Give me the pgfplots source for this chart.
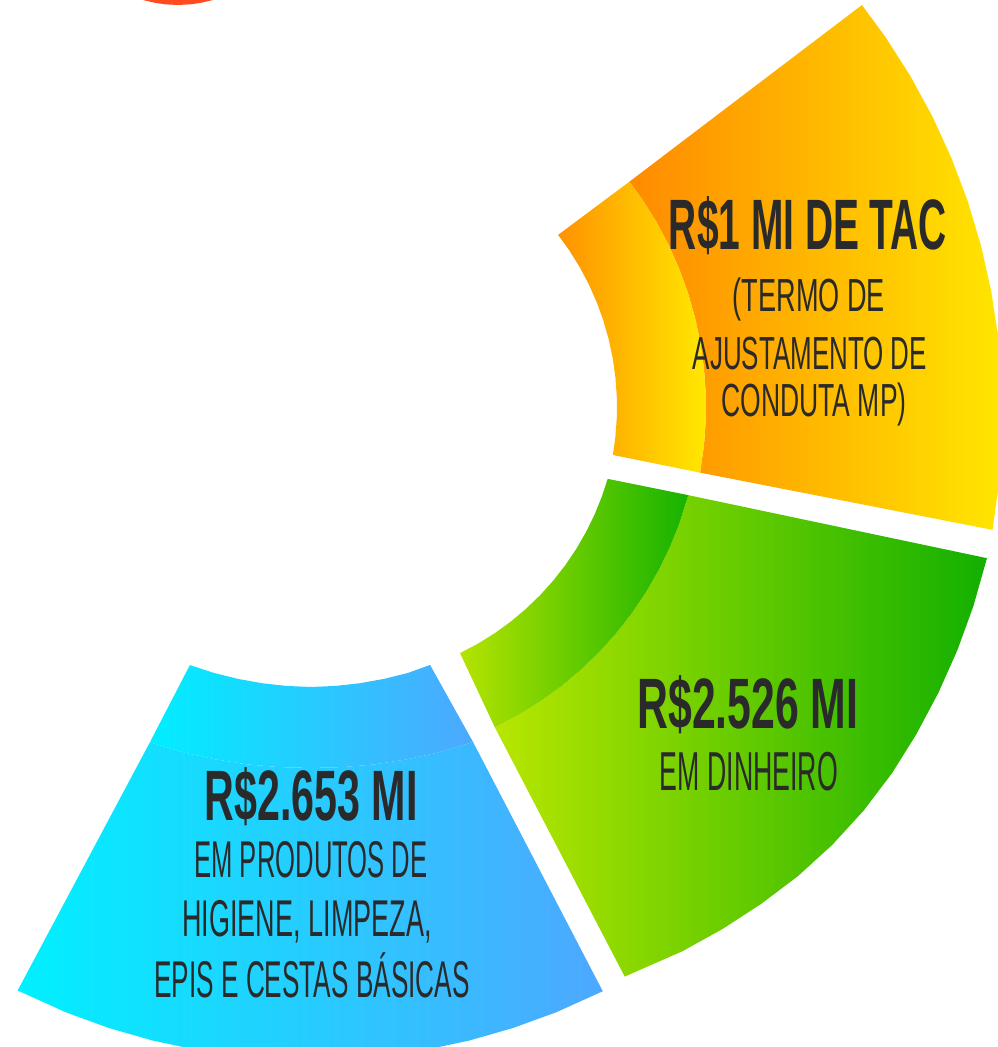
\documentclass[border=0pt]{standalone}
\usepackage{pgfplots}
\pgfplotsset{compat=1.18}
\usepackage{graphicx}
\usepackage{fontspec}
\setmainfont{Liberation Sans}
\definecolor{txt}{HTML}{2A2A2A}
\definecolor{yOutL}{HTML}{FF8A00}
\definecolor{yOutM}{HTML}{FFC000}
\definecolor{yOutR}{HTML}{FFE600}
\definecolor{yInL}{HTML}{FF9200}
\definecolor{yInM}{HTML}{FFC600}
\definecolor{yInR}{HTML}{FFE800}
\definecolor{gOutL}{HTML}{B8E600}
\definecolor{gOutR}{HTML}{12B000}
\definecolor{gInL}{HTML}{B5E300}
\definecolor{gInR}{HTML}{16B300}
\definecolor{bOutL}{HTML}{00F0FF}
\definecolor{bOutR}{HTML}{4DA8FF}
\definecolor{bInL}{HTML}{00EEFF}
\definecolor{bInR}{HTML}{4DA8FF}
\definecolor{redc}{HTML}{FF4B1E}
\newcommand{\lbl}[3]{\resizebox{#1}{\height}{\fontsize{#2}{#2}\selectfont #3}}
\begin{document}
\begin{tikzpicture}
\begin{axis}[x=0.01cm, y=0.01cm, xmin=-336, xmax=662, ymin=-640, ymax=407,
  hide axis, clip=true]

% partial red circle at top
\addplot[draw=none, fill=redc, mark=none] coordinates {
(-195,420) (-193,407) (-181,404.2) (-171,402.7) (-158,402) (-145,402.7) (-135,404.2) (-123,407) (-121,420)} -- cycle;

% ---- yellow segment: R$1 mi
\addplot[draw=none, mark=none, data cs=polar, left color=yOutL, middle color=yOutM, right color=yOutR] coordinates {
(-10.22,370) (-6,370) (-2,370) (2,370) (6,370) (10,370) (14,370) (18,370) (22,370) (26,370) (30,370) (34,370) (37.52,370)
(37.39,662) (34,662.4) (30,662.9) (26,663.4) (22,663.9) (18,664.4) (14,664.9) (10,665.4) (6,665.9) (2,666.4) (-2,666.9) (-6,667.4) (-10.6,668)
} -- cycle;
\addplot[draw=none, mark=none, data cs=polar, left color=yInL, middle color=yInM, right color=yInR] coordinates {
(37.77,281) (34,281) (30,281) (26,281) (22,281) (18,281) (14,281) (10,281) (6,281) (2,281) (-2,281) (-6,281) (-9.83,281)
(-10.22,370) (-6,370) (-2,370) (2,370) (6,370) (10,370) (14,370) (18,370) (22,370) (26,370) (30,370) (34,370) (37.52,370)
} -- cycle;

% ---- green segment: R$2.526 mi
\addplot[draw=none, mark=none, data cs=polar, xshift=0.02cm, yshift=0.07cm, left color=gOutL, right color=gOutR] coordinates {
(-15.2,363) (-20,363) (-24,363) (-28,363) (-32,363) (-36,363) (-40,363) (-44,363) (-48,363) (-52,363) (-56,363) (-60,363) (-64.4,363)
(-63.56,644) (-58,650) (-54,654) (-50,658) (-46,662) (-42,665) (-38,667) (-34,668) (-30,668) (-26,668) (-22,668) (-18,668) (-13.7,668)
} -- cycle;
\addplot[draw=none, mark=none, data cs=polar, xshift=0.02cm, yshift=0.07cm, left color=gInL, right color=gInR] coordinates {
(-16.3,281) (-20,281) (-24,281) (-28,281) (-32,281) (-36,281) (-40,281) (-44,281) (-48,281) (-52,281) (-56,281) (-60,281) (-64.26,281)
(-64.4,363) (-60,363) (-56,363) (-52,363) (-48,363) (-44,363) (-40,363) (-36,363) (-32,363) (-28,363) (-24,363) (-20,363) (-15.2,363)
} -- cycle;

% ---- blue segment: R$2.653 mi
\addplot[draw=none, mark=none, data cs=polar, xshift=-0.25cm, yshift=0.01cm, left color=bOutL, right color=bOutR] coordinates {
(-115.6,373) (-110,369) (-105,366) (-100,364) (-95,362.5) (-90,362) (-85,362.5) (-80,364) (-75,366) (-70,369) (-64.25,373)
(-63.5,654) (-68,654) (-72,654) (-76,654) (-80,654) (-84,654) (-88,654) (-92,654) (-96,654) (-100,654) (-104,654) (-108,654) (-112,654) (-116.65,654)
} -- cycle;
\addplot[draw=none, mark=none, data cs=polar, xshift=-0.25cm, yshift=0.01cm, left color=bInL, right color=bInR] coordinates {
(-115.05,286) (-110,284) (-105,282.5) (-100,281.5) (-95,281) (-90,281) (-85,281) (-80,281.5) (-75,282.5) (-70,284) (-65.3,285)
(-64.25,373) (-70,369) (-75,366) (-80,364) (-85,362.5) (-90,362) (-95,362.5) (-100,364) (-105,366) (-110,369) (-115.6,373)
} -- cycle;

% ---- labels
\node[anchor=base, text=txt, inner sep=0pt] at (axis cs:472,157) {\lbl{2.78cm}{20.3pt}{\bfseries R\$1 MI DE TAC}};
\node[anchor=base, text=txt, inner sep=0pt] at (axis cs:473,96) {\lbl{1.52cm}{13.2pt}{(TERMO DE}};
\node[anchor=base, text=txt, inner sep=0pt] at (axis cs:474,38) {\lbl{2.34cm}{13.2pt}{AJUSTAMENTO DE}};
\node[anchor=base, text=txt, inner sep=0pt] at (axis cs:478,-10) {\lbl{1.85cm}{13.2pt}{CONDUTA MP)}};

\node[anchor=base, text=txt, inner sep=0pt] at (axis cs:412,-321) {\lbl{2.21cm}{20.3pt}{\bfseries R\$2.526 MI}};
\node[anchor=base, text=txt, inner sep=0pt] at (axis cs:413,-383) {\lbl{1.78cm}{15.6pt}{EM DINHEIRO}};

\node[anchor=base, text=txt, inner sep=0pt] at (axis cs:-25,-413) {\lbl{2.13cm}{20.3pt}{\bfseries R\$2.653 MI}};
\node[anchor=base, text=txt, inner sep=0pt] at (axis cs:-25,-471) {\lbl{2.33cm}{14.7pt}{EM PRODUTOS DE}};
\node[anchor=base, text=txt, inner sep=0pt] at (axis cs:-29,-530) {\lbl{2.49cm}{14.7pt}{HIGIENE, LIMPEZA,}};
\node[anchor=base, text=txt, inner sep=0pt] at (axis cs:-24,-590) {\lbl{3.15cm}{14.7pt}{EPIS E CESTAS BÁSICAS}};
\end{axis}
\pgfresetboundingbox
\path[use as bounding box] (current axis.south west) rectangle (current axis.north east);
\end{tikzpicture}
\end{document}
